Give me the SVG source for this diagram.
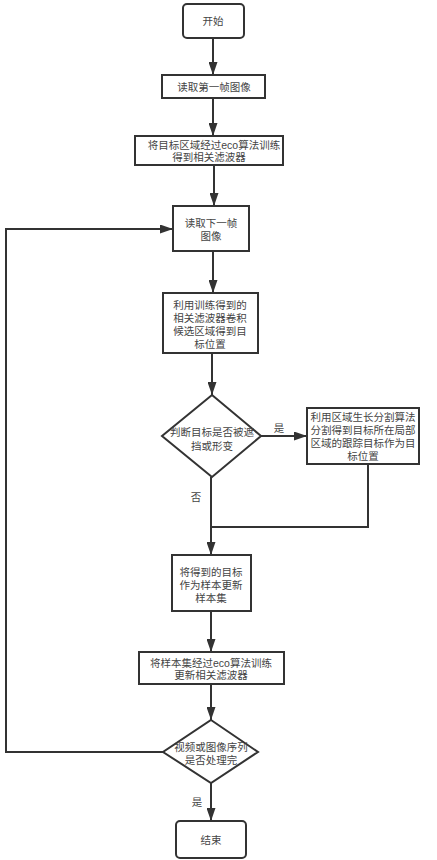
<svg xmlns="http://www.w3.org/2000/svg" width="437" height="860" viewBox="0 0 437 860">
<defs>
<marker id="arr" viewBox="0 0 13 9" refX="13" refY="4.5" markerWidth="13" markerHeight="9" markerUnits="userSpaceOnUse" orient="auto">
<path d="M0,0 L13,4.5 L0,9 z" fill="#333"/>
</marker>
<style>
.box{fill:#fff;stroke:#333;stroke-width:2}
.ln{fill:none;stroke:#333;stroke-width:2}
.t{font-family:"Liberation Sans","Noto Sans CJK SC",sans-serif;font-size:10.5px;fill:#444;text-anchor:middle;dominant-baseline:central}
</style>
</defs>
<rect width="437" height="860" fill="#fff"/>
<g id="connectors">
<path class="ln" d="M213,38 V75" marker-end="url(#arr)"/>
<path class="ln" d="M213,98 V136" marker-end="url(#arr)"/>
<path class="ln" d="M214,165 V206" marker-end="url(#arr)"/>
<path class="ln" d="M213,251 V293" marker-end="url(#arr)"/>
<path class="ln" d="M212,353 V395" marker-end="url(#arr)"/>
<path class="ln" d="M261,436 H307" marker-end="url(#arr)"/>
<path class="ln" d="M211,477 V555" marker-end="url(#arr)"/>
<path class="ln" d="M368,464 V527 H211"/>
<path class="ln" d="M211,611 V652" marker-end="url(#arr)"/>
<path class="ln" d="M211,684 V720" marker-end="url(#arr)"/>
<path class="ln" d="M163,752 H6 V229 H173" marker-end="url(#arr)"/>
<path class="ln" d="M211,783 V821" marker-end="url(#arr)"/>
<text class="t" x="279" y="428">是</text>
<text class="t" x="196" y="497">否</text>
<text class="t" x="197" y="802">是</text>
</g>
<g id="start">
<rect class="box" x="183" y="4" width="61" height="34" rx="4"/>
<text class="t" x="213" y="21">开始</text>
</g>
<g id="read-first">
<rect class="box" x="162" y="75" width="103" height="23"/>
<text class="t" x="214" y="87">读取第一帧图像</text>
</g>
<g id="train">
<rect class="box" x="135" y="136" width="148" height="29"/>
<text class="t" x="214" y="145">将目标区域经过eco算法训练</text>
<text class="t" x="209" y="157">得到相关滤波器</text>
</g>
<g id="read-next">
<rect class="box" x="173" y="206" width="76" height="45"/>
<text class="t" x="211" y="223">读取下一帧</text>
<text class="t" x="211" y="236">图像</text>
</g>
<g id="convolve">
<rect class="box" x="163" y="293" width="95" height="60"/>
<text class="t" x="210" y="305">利用训练得到的</text>
<text class="t" x="210" y="318">相关滤波器卷积</text>
<text class="t" x="210" y="331">候选区域得到目</text>
<text class="t" x="210" y="344">标位置</text>
</g>
<g id="decision-occlusion">
<polygon class="box" points="212,395 261,436 212,477 162,436"/>
<text class="t" x="212" y="432">判断目标是否被遮</text>
<text class="t" x="212" y="446">挡或形变</text>
</g>
<g id="region-grow">
<rect class="box" x="307" y="408" width="112" height="56"/>
<text class="t" x="363" y="417">利用区域生长分割算法</text>
<text class="t" x="363" y="430">分割得到目标所在局部</text>
<text class="t" x="363" y="443">区域的跟踪目标作为目</text>
<text class="t" x="363" y="456">标位置</text>
</g>
<g id="update-samples">
<rect class="box" x="172" y="555" width="79" height="56"/>
<text class="t" x="211" y="572">将得到的目标</text>
<text class="t" x="211" y="585">作为样本更新</text>
<text class="t" x="211" y="598">样本集</text>
</g>
<g id="retrain">
<rect class="box" x="139" y="652" width="145" height="32"/>
<text class="t" x="211" y="663">将样本集经过eco算法训练</text>
<text class="t" x="211" y="675">更新相关滤波器</text>
</g>
<g id="decision-done">
<polygon class="box" points="211,720 258,752 211,783 163,752"/>
<text class="t" x="211" y="747">视频或图像序列</text>
<text class="t" x="211" y="760">是否处理完</text>
</g>
<g id="end">
<rect class="box" x="176" y="821" width="70" height="37" rx="4"/>
<text class="t" x="211" y="840">结束</text>
</g>
</svg>
